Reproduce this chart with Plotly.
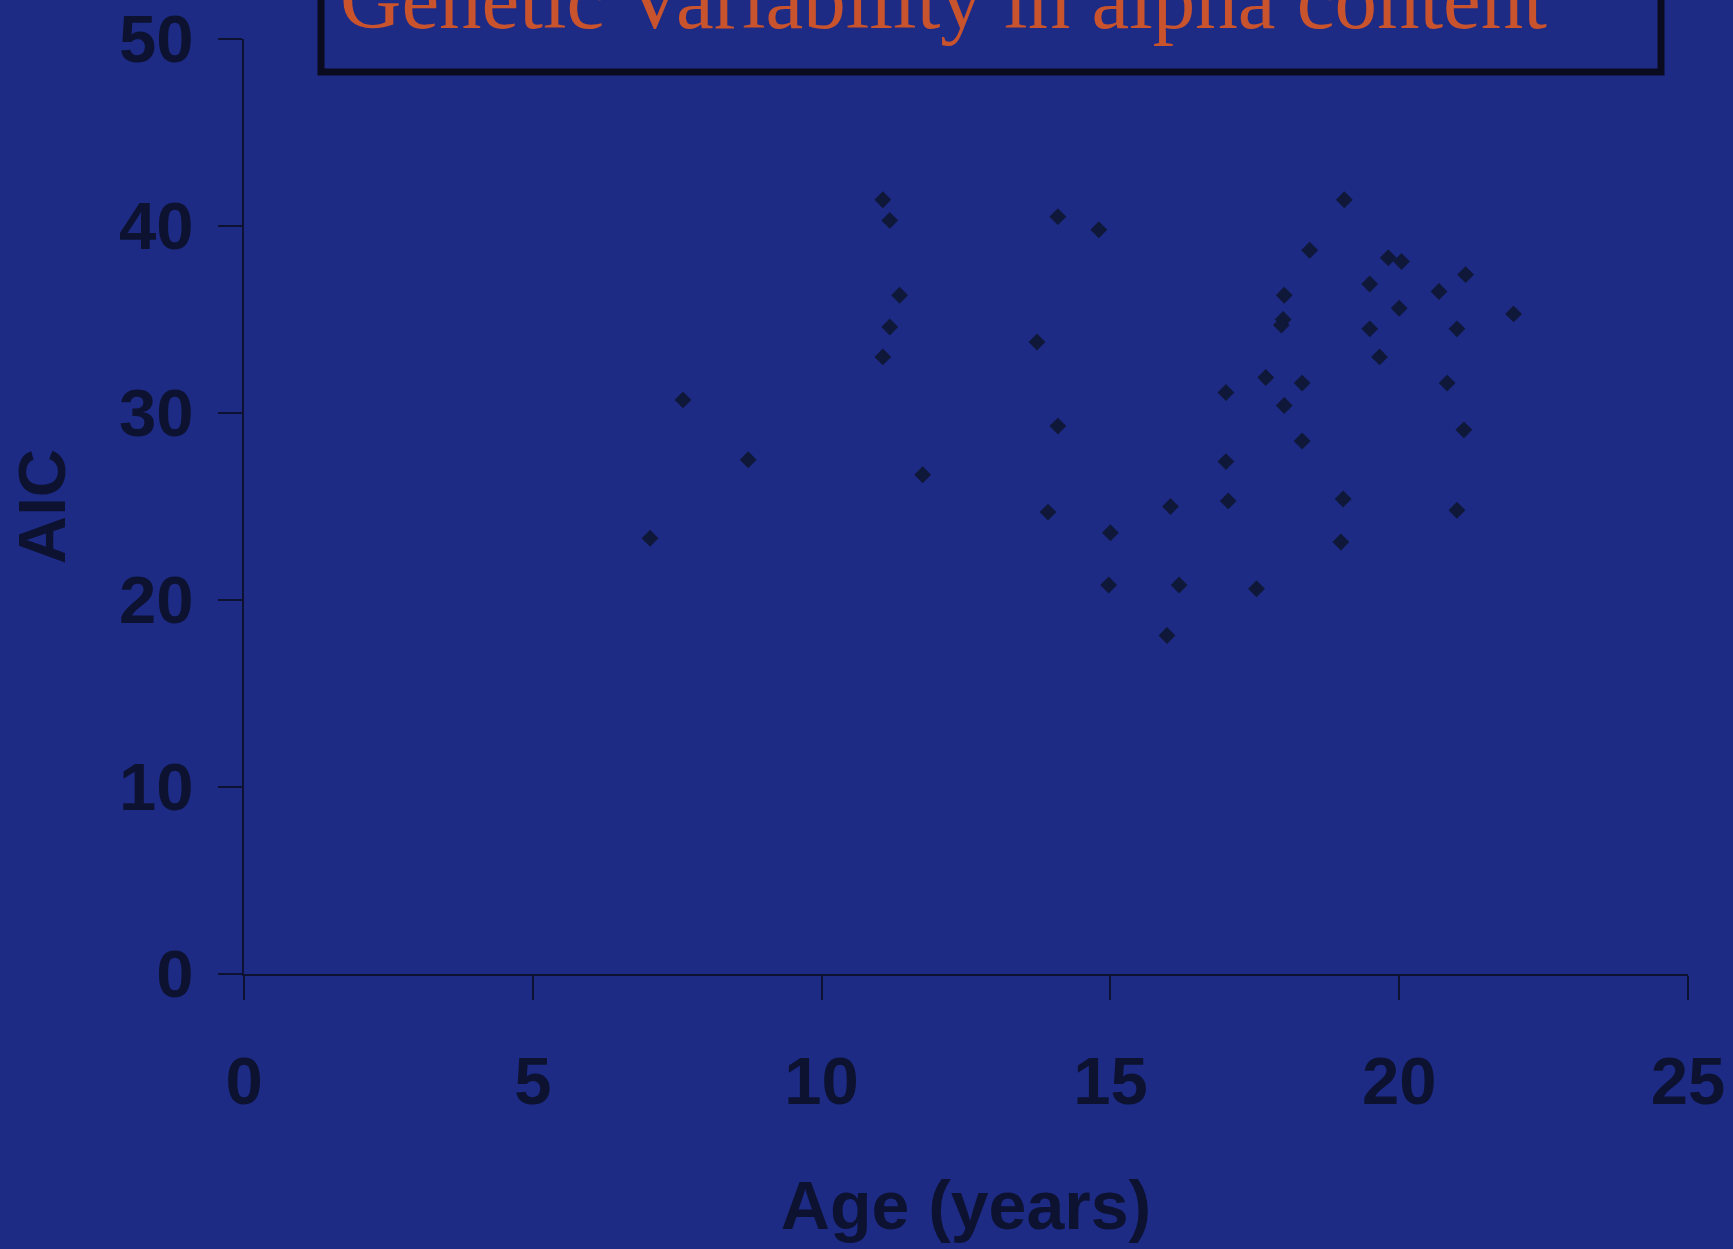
import plotly.graph_objects as go

# Data
age = [7.03, 7.6, 8.73, 11.06, 11.18, 11.35, 11.18, 11.06, 11.75,
       14.09, 14.8, 13.73, 14.09, 13.92, 15.0, 14.97, 16.04, 16.19, 15.98,
       17.0, 17.0, 17.04, 17.53, 17.69, 18.01, 17.99, 17.96, 18.01, 18.32,
       18.32, 18.45, 19.05, 19.03, 18.99, 19.49, 19.49, 19.66, 19.81, 20.04,
       20.0, 20.69, 20.83, 21.0, 21.12, 21.0, 21.15, 21.98]
aic = [23.3, 30.7, 27.5, 41.4, 40.3, 36.3, 34.6, 33.0, 26.7,
       40.5, 39.8, 33.8, 29.3, 24.7, 23.6, 20.8, 25.0, 20.8, 18.1,
       31.1, 27.4, 25.3, 20.6, 31.9, 36.3, 35.0, 34.7, 30.4, 31.6,
       28.5, 38.7, 41.4, 25.4, 23.1, 36.9, 34.5, 33.0, 38.3, 38.1,
       35.6, 36.5, 31.6, 34.5, 29.1, 24.8, 37.4, 35.3]

x_ticks = [0, 5, 10, 15, 20, 25]
y_ticks = [0, 10, 20, 30, 40, 50]
title_text = "Genetic Variability in alpha content"
x_title = "Age (years)"
y_title = "AIC"

W, H = 1733, 1249
L, R, T, B = 244, 45, 39, 275
PW, PH = W - L - R, H - T - B

def px(x):
    return (x - L) / PW

def py(y):
    return (H - B - y) / PH

BG = "#1d2b85"
INK = "#0d1230"

fig = go.Figure()
fig.add_trace(go.Scatter(
    x=age, y=aic, mode="markers",
    marker=dict(symbol="diamond", size=13, color="#10183a",
                line=dict(width=0)),
    showlegend=False, hoverinfo="x+y"))

axis_common = dict(
    showgrid=False, zeroline=False, showline=True, linecolor=INK,
    linewidth=2, ticks="outside", tickcolor=INK, tickwidth=2, ticklen=24,
    tickfont=dict(family="Liberation Sans", size=67, color=INK, weight="bold"),
)

fig.update_xaxes(range=[0, 25], tickvals=x_ticks, ticklabelstandoff=24,
                 title=dict(text="<b>" + x_title + "</b>", standoff=64,
                            font=dict(family="Liberation Sans", size=68, color=INK)),
                 **axis_common)
fig.update_yaxes(range=[0, 50], tickvals=y_ticks, ticklabelstandoff=11,
                 title=dict(text="<b>" + y_title + "</b>", standoff=32,
                            font=dict(family="Liberation Sans", size=67, color=INK)),
                 **axis_common)

# Title box
fig.add_shape(type="rect", xref="paper", yref="paper",
              x0=px(321), x1=px(1661), y0=py(72), y1=py(-30),
              line=dict(color="#0a0b1e", width=7), fillcolor="rgba(0,0,0,0)",
              layer="above")
fig.add_annotation(xref="paper", yref="paper", x=px(943), y=py(48),
                   xanchor="center", yanchor="bottom", showarrow=False,
                   text=title_text,
                   font=dict(family="Liberation Serif", size=85, color="#c9532c"))

fig.update_layout(
    width=W, height=H, margin=dict(l=L, r=R, t=T, b=B, autoexpand=False),
    paper_bgcolor=BG, plot_bgcolor=BG,
)

fig.write_html("out.html")
